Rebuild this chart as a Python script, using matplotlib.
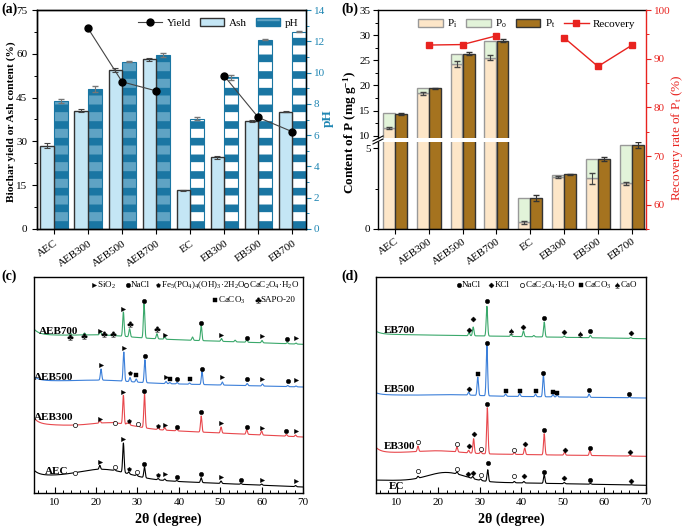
import numpy as np
import matplotlib
matplotlib.use('Agg')
import matplotlib.pyplot as plt
from matplotlib.patches import Patch
from matplotlib.lines import Line2D
from matplotlib.ticker import MultipleLocator

plt.rcParams['font.family'] = ['Liberation Serif', 'DejaVu Serif']
plt.rcParams['mathtext.fontset'] = 'custom'
plt.rcParams['mathtext.rm'] = 'Liberation Serif'
plt.rcParams['mathtext.it'] = 'Liberation Serif:italic'
plt.rcParams['mathtext.bf'] = 'Liberation Serif:bold'
plt.rcParams['hatch.linewidth'] = 5.5
plt.rcParams['axes.linewidth'] = 1.0

# ---- (a) yield / ash / pH ----
samples = ['AEC', 'AEB300', 'AEB500', 'AEB700', 'EC', 'EB300', 'EB500', 'EB700']
ash = [28.5, 40.5, 54.3, 58.2, 13.2, 24.5, 37.0, 40.1]
ash_err = [0.9, 0.6, 0.7, 0.5, 0.2, 0.6, 0.3, 0.2]
ph = [8.18, 8.96, 10.7, 11.14, 7.06, 9.7, 12.1, 12.6]
ph_err = [0.1, 0.2, 0.05, 0.12, 0.12, 0.15, 0.03, 0.03]
yields = [np.nan, 68.7, 50.4, 47.3, np.nan, 52.4, 38.2, 33.3]

# ---- (b) phosphorus ----
p_i = [11.5, 18.4, 24.2, 25.5, 0.42, 3.25, 3.15, 2.84]
p_i_err = [0.15, 0.3, 0.6, 0.5, 0.1, 0.06, 0.33, 0.1]
p_o = [3.0, 1.1, 2.1, 3.4, 1.5, 0.12, 1.18, 2.38]
p_t = [14.4, 19.4, 26.3, 28.9, 1.9, 3.4, 4.33, 5.22]
p_t_err = [0.2, 0.1, 0.3, 0.3, 0.18, 0.03, 0.13, 0.2]
recovery = [np.nan, 92.8, 92.9, 94.7, np.nan, 94.3, 88.4, 92.75]

# ---- (c)/(d) XRD: background (level at 70, slope, low-angle rise, humps) and peak tops ----
aec_bg = (6.0, 0.18, 5.0, [(22, 9, 6)])
aec_peaks = [(15.0, 20.5), (20.9, 27.7), (24.5, 23.5), (26.6, 50.0), (27.9, 21), (29.8, 18.5),
             (31.7, 26), (35.0, 14.5), (36.6, 14), (39.5, 12.5), (45.4, 15.3), (50.2, 12),
             (55.0, 9.5), (60.0, 9), (68.2, 7.5)]
aec_marks = [('oo', 15.0, 20), ('>', 21.0, 31), ('oo', 24.5, 26), ('>', 26.6, 54), ('p', 28.0, 24),
             ('oo', 29.8, 21), ('o', 31.7, 29.3), ('p', 35.0, 18.3), ('>', 36.7, 18.7), ('o', 39.5, 16),
             ('o', 45.4, 19.3), ('>', 50.2, 16), ('o', 55.0, 12.7), ('>', 60.0, 13.3), ('>', 68.2, 12)]

aeb300_bg = (56.0, 0.2, 6.0, [(24, 5, 5)])
aeb300_peaks = [(15.0, 68), (20.9, 72.5), (24.5, 71.5), (26.6, 97.7), (27.5, 70), (28.0, 70.5),
                (30.2, 68), (31.7, 99.3), (35.0, 65.5), (36.6, 65.5), (39.5, 64), (45.4, 77),
                (50.2, 66), (56.4, 63.5), (60.0, 62), (66.0, 58.5), (68.2, 58)]
aeb300_marks = [('oo', 15.0, 68), ('>', 20.9, 74), ('oo', 24.5, 70), ('>', 26.6, 101), ('p', 28.0, 72),
                ('oo', 30.2, 69), ('o', 31.7, 102), ('p', 35.0, 67), ('>', 36.7, 68), ('o', 39.5, 66),
                ('o', 45.4, 81), ('>', 50.2, 70), ('o', 56.4, 66.5), ('>', 60.0, 65.3), ('o', 66.0, 61.7),
                ('>', 68.2, 62)]

aeb500_bg = (106.0, 0.1, 4.0, [(22, 2, 6)])
aeb500_peaks = [(21.2, 124), (26.7, 141), (28.2, 115.5), (29.7, 114), (31.8, 133.3), (36.9, 111.5),
                (37.8, 110.5), (39.6, 110.5), (42.6, 110), (45.6, 121.7), (50.5, 111), (56.5, 109.5),
                (60.2, 109), (66.3, 107.5), (68.3, 107)]
aeb500_marks = [('>', 21.2, 128), ('>', 26.7, 145.3), ('p', 28.2, 120), ('s', 29.7, 118.3),
                ('o', 31.8, 136.7), ('>', 36.9, 116), ('s', 37.8, 113.7), ('o', 39.6, 113.7),
                ('s', 42.6, 114), ('o', 45.6, 124.5), ('>', 50.5, 116), ('o', 56.5, 113.7),
                ('>', 60.2, 113.7), ('o', 66.3, 111.7), ('>', 68.3, 112.7)]

aeb700_bg = (148.7, 0.15, 5.5, [(22, 2, 6)])
aeb700_peaks = [(13.8, 159.8), (17.2, 160), (21.0, 162.3), (22.0, 159), (24.2, 159), (26.6, 181),
                (28.1, 164.3), (31.6, 189.3), (34.7, 159.3), (36.6, 156.5), (43.3, 156), (45.4, 167.7),
                (50.3, 154.5), (53.6, 152.8), (56.4, 153.5), (60.1, 152.5), (66.2, 150.5), (68.3, 150)]
aeb700_marks = [('c', 13.8, 156), ('c', 17.2, 156.7), ('>', 21.0, 161.7), ('c', 22.0, 159),
                ('c', 24.2, 159), ('>', 26.6, 183.7), ('c', 28.1, 169.3), ('o', 31.6, 192.3),
                ('c', 34.7, 163.7), ('>', 36.6, 158.3), ('o', 45.4, 170.3), ('>', 50.3, 158.3),
                ('o', 56.4, 155.3), ('>', 60.1, 156.7), ('o', 66.2, 154.3), ('>', 68.3, 155)]

ec_bg = (7.7, 0.08, 0.0, [(22, 9, 4.5)])
ec_peaks = [(15.1, 16.7), (24.5, 21), (27.2, 16), (28.3, 16.5), (30.2, 14), (31.9, 23.3),
            (38.3, 11.5), (40.6, 11.5), (45.5, 18.3), (50.3, 10.5), (56.6, 9.5), (66.4, 8.3)]
ec_marks = [('oo', 15.1, 22), ('oo', 24.5, 24), ('D', 27.2, 19), ('D', 28.3, 20.3), ('oo', 30.2, 17.7),
            ('o', 31.9, 30.3), ('oo', 38.3, 17), ('D', 40.6, 16.7), ('o', 45.5, 21), ('D', 50.3, 14.7),
            ('o', 56.6, 13.3), ('D', 66.4, 11.7)]

eb300_bg = (36.7, 0.06, 5.0, [(20, 2.5, 5)])
eb300_peaks = [(15.1, 47), (24.5, 46), (27.3, 42.7), (28.5, 54.3), (30.2, 41.5), (31.8, 85.3),
               (38.3, 40.5), (40.8, 45), (45.5, 59.3), (50.4, 41), (56.5, 42.7), (66.1, 38)]
eb300_marks = [('oo', 15.1, 51), ('oo', 24.5, 49.3), ('D', 27.3, 47), ('D', 28.5, 58.7),
               ('oo', 30.2, 44.3), ('o', 31.8, 89.3), ('oo', 38.3, 43.3), ('D', 40.8, 48.7),
               ('o', 45.5, 63), ('D', 50.4, 42.7), ('o', 56.5, 45.3), ('D', 66.1, 41)]

eb500_bg = (95.0, 0.05, 2.0, [(24, 1, 5)])
eb500_peaks = [(27.3, 101), (29.5, 116), (31.7, 147.7), (36.2, 99), (39.6, 99.5), (43.4, 99),
               (45.3, 117.7), (47.6, 98.5), (48.6, 98), (56.3, 99), (66.0, 96)]
eb500_marks = [('D', 27.3, 104.3), ('s', 29.5, 118.7), ('o', 31.7, 150.0), ('s', 36.2, 101.7),
               ('s', 39.6, 102), ('s', 43.4, 101.7), ('o', 45.3, 120.3), ('s', 47.6, 101),
               ('s', 48.6, 100.3), ('o', 56.3, 103.3), ('o', 66.0, 99.3)]

eb700_bg = (154.3, 0.07, 3.0, [])
eb700_peaks = [(27.4, 160.5), (28.4, 166), (31.7, 186.7), (37.5, 158.5), (40.5, 162), (43.0, 157.5),
               (45.5, 171), (50.3, 157), (54.0, 156), (56.6, 157.7), (66.3, 155.5)]
eb700_marks = [('D', 27.4, 163.3), ('D', 28.4, 173.7), ('o', 31.7, 191.7), ('sp', 37.5, 161.7),
               ('D', 40.5, 166), ('o', 45.5, 175), ('D', 50.3, 160.7), ('sp', 54.0, 159.3),
               ('o', 56.6, 162), ('D', 66.3, 160.3)]

ash_col = '#c4e6f5'
ph_col = '#1a76a3'
ph_light = '#5fa3c4'
teal = '#1f86b3'
pi_col, po_col, pt_col = '#fde6c8', '#e2f3d9', '#a5731f'
red = '#e8231f'
xrd_cols = ['black', '#e8474c', '#3b7fd9', '#3aa86b']

MARK = {
    '>': dict(marker='>', ms=3.0, mfc='k', mec='k', mew=0.3),
    'o': dict(marker='o', ms=3.2, mfc='k', mec='k', mew=0.3),
    'oo': dict(marker='o', ms=3.0, mfc='white', mec='k', mew=0.5),
    'p': dict(marker='p', ms=3.0, mfc='k', mec='k', mew=0.3),
    's': dict(marker='s', ms=2.6, mfc='k', mec='k', mew=0.3),
    'c': dict(marker='$\\clubsuit$', ms=4.2, mfc='k', mec='k', mew=0.1),
    'sp': dict(marker='$\\spadesuit$', ms=4.2, mfc='k', mec='k', mew=0.1),
    'D': dict(marker='D', ms=2.6, mfc='k', mec='k', mew=0.3),
}

fig = plt.figure(figsize=(6.85, 5.30), dpi=100)
W, H = 685.0, 530.0


def box(l, r, t, b):
    return [l / W, 1 - b / H, (r - l) / W, (b - t) / H]


x = np.arange(len(samples))

# ================= (a) =================
ax = fig.add_axes(box(37, 306, 10, 229))
ax2 = ax.twinx()
ax.set_zorder(ax2.get_zorder() + 1)
ax.patch.set_visible(False)
ae = [0, 1, 2, 3]
eb = [4, 5, 6, 7]
ax.bar(x - 0.2, ash, 0.4, color=ash_col, edgecolor='#333333', lw=1.0,
       yerr=ash_err, error_kw=dict(ecolor='#444444', capsize=2, elinewidth=0.8, capthick=0.8))
ax2.bar(x[ae] + 0.2, [ph[i] for i in ae], 0.4, color=ph_light, edgecolor=ph_col, lw=0.8, hatch='-')
ax2.bar(x[eb] + 0.2, [ph[i] for i in eb], 0.4, color='white', edgecolor=ph_col, lw=0.8, hatch='-')
ax2.errorbar(x + 0.2, ph, yerr=ph_err, fmt='none', ecolor='#777777', capsize=2, elinewidth=0.8)
ax.plot(x, yields, '-', color='#444444', lw=0.8, marker='o', ms=5, mfc='k', mec='k')
ax.set_xlim(-0.5, 7.4)
ax.set_ylim(0, 75)
ax.set_yticks(np.arange(0, 76, 15))
ax.yaxis.set_minor_locator(MultipleLocator(7.5))
ax2.set_ylim(0, 14)
ax2.set_yticks(np.arange(0, 15, 2))
ax2.yaxis.set_minor_locator(MultipleLocator(1))
ax.set_xticks(x)
ax.set_xticklabels(samples, rotation=35, ha='right', va='top', rotation_mode='anchor')
ax.tick_params(axis='both', labelsize=8, length=3.5, width=0.8)
ax.tick_params(which='minor', length=2, width=0.7)
ax2.tick_params(axis='y', labelsize=8, length=3.5, width=0.8, colors=teal, pad=2)
ax2.tick_params(which='minor', length=2, width=0.7, colors=teal)
ax2.spines['right'].set_color(teal)
fig.text(11 / W, 1 - 121.5 / H, 'Biochar yield or Ash content (%)', rotation=90,
         ha='center', va='center', fontsize=8.2, fontweight='bold')
fig.text(328 / W, 1 - 118 / H, 'pH', rotation=90, ha='center', va='center',
         fontsize=9.5, fontweight='bold', color=teal)
hdl = [Line2D([], [], color='#444444', lw=0.8, marker='o', ms=5, mfc='k', mec='k'),
       Patch(facecolor=ash_col, edgecolor='#333333'),
       Patch(facecolor=ph_light, edgecolor=ph_col, hatch='-')]
ax.legend(hdl, ['Yield', 'Ash', 'pH'], loc='upper right', ncol=3, frameon=False, fontsize=8,
          handlelength=2.2, handletextpad=0.4, columnspacing=0.8, borderaxespad=0.3)

# ================= (b) =================
ax_hi = fig.add_axes(box(378, 646, 10, 138))
ax_lo = fig.add_axes(box(378, 646, 142, 229))
for a in (ax_hi, ax_lo):
    a.bar(x - 0.18, p_i, 0.35, color=pi_col, edgecolor='#999999', lw=1.0)
    a.bar(x - 0.18, p_o, 0.35, bottom=p_i, color=po_col, edgecolor='#999999', lw=1.0)
    a.bar(x + 0.18, p_t, 0.35, color=pt_col, edgecolor='#333333', lw=1.0)
    a.errorbar(x - 0.18, p_i, yerr=p_i_err, fmt='none', ecolor='#444444', capsize=2, elinewidth=0.8)
    a.errorbar(x + 0.18, p_t, yerr=p_t_err, fmt='none', ecolor='#333333', capsize=2, elinewidth=0.8)
    a.set_xlim(-0.5, 7.42)
    a.spines['right'].set_visible(False)
    a.tick_params(axis='both', labelsize=8, length=3.5, width=0.8, pad=2)
    a.tick_params(which='minor', length=2, width=0.7)
ax_hi.set_ylim(9.54, 35)
ax_hi.set_yticks(np.arange(10, 36, 5))
ax_hi.yaxis.set_minor_locator(MultipleLocator(2.5))
ax_hi.spines['bottom'].set_visible(False)
ax_hi.set_xticks([])
ax_lo.set_ylim(0, 5.4)
ax_lo.set_yticks([0, 5])
ax_lo.yaxis.set_minor_locator(MultipleLocator(2.5))
ax_lo.spines['top'].set_visible(False)
ax_lo.set_xticks(x)
ax_lo.set_xticklabels(samples, rotation=35, ha='right', va='top', rotation_mode='anchor')
# break marks on the left spine
for yy in (138.5, 141.5):
    fig.add_artist(Line2D([373 / W, 383 / W], [1 - (yy + 2.5) / H, 1 - (yy - 2.5) / H],
                          color='k', lw=0.8))

ax_r = fig.add_axes(box(378, 646, 10, 229))
ax_r.patch.set_visible(False)
ax_r.plot(x, recovery, '-', color=red, lw=1.0, marker='s', ms=4.5, mfc=red, mec=red)
ax_r.set_xlim(-0.5, 7.42)
ax_r.set_ylim(55, 100)
ax_r.set_yticks(np.arange(60, 101, 10))
ax_r.yaxis.set_minor_locator(MultipleLocator(5))
ax_r.yaxis.tick_right()
ax_r.set_xticks([])
for s in ('left', 'bottom', 'top'):
    ax_r.spines[s].set_visible(False)
ax_r.spines['right'].set_color(red)
ax_r.tick_params(axis='y', labelsize=8, length=3.5, width=0.8, colors=red, pad=2)
ax_r.tick_params(which='minor', length=2, width=0.7, colors=red)
fig.text(677 / W, 1 - 138 / H, 'Recovery rate of P$_\\mathrm{t}$ (%)', rotation=90,
         ha='center', va='center', fontsize=9.5, color=red)
fig.text(350 / W, 1 - 133 / H, 'Content of P (mg g$\\mathbf{^{-1}}$)', rotation=90,
         ha='center', va='center', fontsize=9.5, fontweight='bold')
hdl = [Patch(facecolor=pi_col, edgecolor='#999999'), Patch(facecolor=po_col, edgecolor='#999999'),
       Patch(facecolor=pt_col, edgecolor='#333333'),
       Line2D([], [], color=red, lw=1.0, marker='s', ms=4.5, mfc=red, mec=red)]
ax_r.legend(hdl, ['P$_\\mathrm{i}$', 'P$_\\mathrm{o}$', 'P$_\\mathrm{t}$', 'Recovery'],
            loc='upper right', ncol=4, frameon=False, fontsize=8, handlelength=2.2,
            handletextpad=0.4, columnspacing=0.8, borderaxespad=0.3, bbox_to_anchor=(0.99, 1.0))


# ================= (c) / (d) =================
def background(t, bg):
    base, slope, low, humps = bg
    y = base + slope * (70 - t) + low * np.exp(-(t - 5) / 1.2)
    for c, a, s in humps:
        y = y + a * np.exp(-(t - c) ** 2 / (2 * s * s))
    return y


def pattern(t, bg, peaks, w=0.17):
    y = background(t, bg)
    for pos, top in peaks:
        amp = top - background(np.array([pos]), bg)[0]
        y = y + amp * np.exp(-(t - pos) ** 2 / (2 * w * w))
    return y


def xrd_axes(rect, sets, labels, legend_rows):
    a = fig.add_axes(rect)
    t = np.linspace(5, 70, 4000)
    for (bg, peaks, marks), col, (lab, lx, ly) in zip(sets, xrd_cols, labels):
        a.plot(t, pattern(t, bg, peaks), color=col, lw=0.8)
        for code, px, py in marks:
            a.plot([px], [py], ls='none', **MARK[code])
        a.text(lx, ly, lab, fontsize=8, fontweight='bold', ha='left', va='center')
    for row_y, items in legend_rows:
        for code, mx, txt in items:
            a.plot([mx], [row_y], ls='none', **MARK[code])
            a.text(mx + 0.7, row_y, txt, fontsize=6.5, ha='left', va='center')
    a.set_xlim(5, 70)
    a.set_ylim(0, 216)
    a.set_yticks([])
    a.set_xticks(np.arange(10, 71, 10))
    a.xaxis.set_minor_locator(MultipleLocator(2))
    a.tick_params(axis='x', direction='in', labelsize=8, length=4, width=0.8)
    a.tick_params(axis='x', which='minor', direction='in', length=2, width=0.7)
    a.set_xlabel('2\u03b8 (degree)', fontsize=10, fontweight='bold', labelpad=4)
    return a


xrd_axes(box(34, 303, 277, 493),
         [(aec_bg, aec_peaks, aec_marks), (aeb300_bg, aeb300_peaks, aeb300_marks),
          (aeb500_bg, aeb500_peaks, aeb500_marks), (aeb700_bg, aeb700_peaks, aeb700_marks)],
         [('AEC', 7.6, 21.7), ('AEB300', 4.9, 76), ('AEB500', 4.9, 116), ('AEB700', 6.2, 162)],
         [(207.7, [('>', 19.5, 'SiO$_2$'), ('o', 27.6, 'NaCl'),
                   ('p', 35.0, 'Fe$_5$(PO$_4$)$_4$(OH)$_3$\u00b72H$_2$O'),
                   ('oo', 56.3, 'CaC$_2$O$_4$\u00b7H$_2$O')]),
          (192.7, [('s', 48.7, 'CaCO$_3$'), ('c', 59.1, 'SAPO-20')])])

xrd_axes(box(376, 646, 277, 493),
         [(ec_bg, ec_peaks, ec_marks), (eb300_bg, eb300_peaks, eb300_marks),
          (eb500_bg, eb500_peaks, eb500_marks), (eb700_bg, eb700_peaks, eb700_marks)],
         [('EC', 8.2, 6.7), ('EB300', 6.8, 46.7), ('EB500', 6.8, 103.3), ('EB700', 6.8, 162.7)],
         [(207.7, [('o', 25.0, 'NaCl'), ('D', 32.8, 'KCl'), ('oo', 40.1, 'CaC$_2$O$_4$\u00b7H$_2$O'),
                   ('s', 54.4, 'CaCO$_3$'), ('sp', 63.1, 'CaO')])])

for lab, px, py in [('(a)', 1, 9), ('(b)', 341, 9), ('(c)', 1, 276), ('(d)', 341, 276)]:
    fig.text(px / W, 1 - py / H, lab, fontsize=10, fontweight='bold', ha='left', va='center')

fig.savefig('out.png', dpi=100)
